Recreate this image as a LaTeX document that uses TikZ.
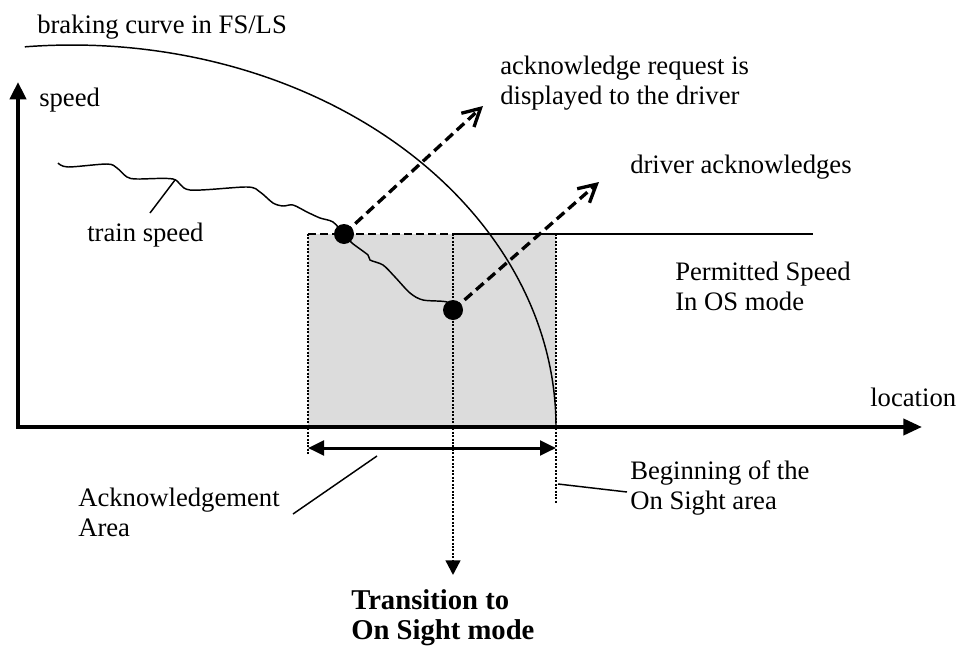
\documentclass[tikz,border=0pt]{standalone}
\usepackage{fontspec}
\setmainfont{Liberation Serif}
\usetikzlibrary{arrows.meta}
\usetikzlibrary{calc}
\definecolor{areagray}{RGB}{220,220,220}
\newcommand{\event}[3] % name, x, y
{
	% black dot on the speed curve
	\node[circle, fill, inner sep=0pt, minimum size=15pt] (#1) at (#2,#3) {};
}
\newcommand{\lbl}[4] % name, x, y (left edge, middle), text
{
	\node[anchor=west, align=left, inner sep=0pt] (#1) at (#2,#3) {#4};
}

\begin{document}
\begin{tikzpicture}[x=0.75pt, y=0.75pt,
	every node/.style={font=\fontsize{20}{22.5}\selectfont},
	thinline/.style={line width=1.1pt},
	axis/.style={line width=3pt, line join=miter},
	limit/.style={line width=1.8pt, dash pattern=on 1.5pt off 1.1pt},
	evarrow/.style={line width=2.5pt, dash pattern=on 7.5pt off 4pt, -{Straight Barb[length=13pt, width=14pt]}}]
	% 1 unit = 1 pixel of the reference, origin where the axes meet
	\useasboundingbox (-18,-224) rectangle (942,427);
	\coordinate (O) at (0,0);
	\coordinate (vtop) at (0,345);
	\coordinate (hend) at (904,0);
	\coordinate (ackl) at (290,193);
	\coordinate (mid) at (435,193);
	\coordinate (osl) at (538,193);
	\coordinate (psend) at (795,193);
	% acknowledgement area
	\fill[areagray] (290,0) rectangle (osl);
	% axes
	\draw[axis, {Triangle[length=13pt, width=12pt]}-{Triangle[length=14pt, width=12pt]}] (vtop) -- (O) -- (hend);
	% braking curve, quarter ellipse ending on the axis
	\draw[thinline] (538,0) arc[start angle=0, end angle=95.6, x radius=484, y radius=382];
	% permitted speed in OS mode
	\draw[thinline] (mid) -- (psend);
	\draw[line width=1.9pt, dash pattern=on 6pt off 3pt] (ackl) -- (osl);
	% area limits
	\coordinate (ackbot) at (290,-28);
	\coordinate (osbot) at (538,-76);
	\coordinate (trtip) at (435,-148);
	\draw[limit] (ackl) -- (ackbot);
	\draw[limit] (osl) -- (osbot);
	\draw[limit, -{Triangle[length=11pt, width=11pt]}] (mid) -- (trtip);
	% length of the area
	\coordinate (ackA) at (290,-21);
	\coordinate (ackB) at (538,-21);
	\draw[line width=2.25pt, {Triangle[length=12pt, width=11pt]}-{Triangle[length=12pt, width=11pt]}] (ackA) -- (ackB);
	% train speed
	\draw[thinline] plot[smooth, tension=0.5] coordinates {(40,264) (50,260) (89,263) (99,259) (109,250) (119,248) (155,248) (172,237) (229,240) (242,235) (255,224) (265,221) (275,222) (289,215) (302,209) (315,205) (326,193) (334,184) (350,172) (352,167) (365,162) (377,150) (392,134) (405,127) (429,125) (435,117)};
	\event{req}{326}{193};
	\event{ack}{435}{117};
	\coordinate (reqtip) at (465,321);
	\coordinate (acktip) at (581,245);
	\draw[evarrow] (req.center) -- (reqtip);
	\draw[evarrow] (ack.center) -- (acktip);
	% labels
	\lbl{brake}{19}{400}{braking curve in FS/LS};
	\lbl{speed}{21}{327}{speed};
	\lbl{loc}{852}{30}{location};
	\lbl{tspeed}{69}{192}{train speed};
	\lbl{reqtxt}{482}{344}{acknowledge request is\\displayed to the driver};
	\lbl{acktxt}{612}{260}{driver acknowledges};
	\lbl{pstxt}{657}{141}{Permitted Speed\\In OS mode};
	\lbl{areatxt}{60}{-85}{Acknowledgement\\Area};
	\lbl{ostxt}{612}{-61}{Beginning of the\\On Sight area};
	\node[anchor=west, align=left, inner sep=0pt, font=\bfseries\fontsize{21.5}{22.5}\selectfont] (trtxt) at (333,-191) {Transition to\\On Sight mode};
	% leaders
	\coordinate (tsA) at (157,247);
	\coordinate (tsB) at (132,214);
	\coordinate (arA) at (359,-29);
	\coordinate (arB) at (275,-87);
	\coordinate (osA) at (540,-57);
	\coordinate (osB) at (609,-65);
	\draw[thinline] (tsA) -- (tsB);
	\draw[thinline] (arA) -- (arB);
	\draw[thinline] (osA) -- (osB);
\end{tikzpicture}
\end{document}
